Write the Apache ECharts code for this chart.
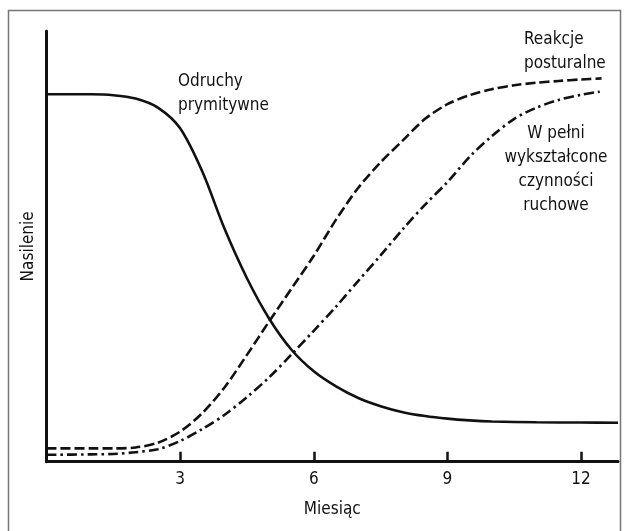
<!DOCTYPE html>
<html>
<head>
<meta charset="utf-8">
<script src="https://cdn.jsdelivr.net/npm/echarts@6/dist/echarts.min.js"></script>
<style>
  html, body { margin: 0; padding: 0; background: #fff; }
  #chart { width: 628px; height: 531px; }
</style>
</head>
<body>
<div id="chart"></div>
<script>
// Miesiąc (x) / Nasilenie (y, 0-100)
var monthTicks = [3, 6, 9, 12]

// Odruchy prymitywne
var reflexX = [0, 0.5, 1, 1.5, 2, 2.5, 3, 3.5, 4, 4.5, 5, 5.5, 6, 6.5, 7, 7.5, 8, 8.5, 9, 9.5, 10, 11, 12, 12.83]
var reflexY = [85.3, 85.3, 85.3, 85.1, 84.3, 82.2, 77.4, 67.3, 54.0, 42.6, 33.2, 26.0, 21.0, 17.5, 14.8, 12.9, 11.5, 10.6, 10.0, 9.6, 9.35, 9.15, 9.1, 9.06]

// Reakcje posturalne
var posturalX = [0, 1, 1.5, 2, 2.5, 3, 3.5, 4, 4.5, 5, 5.5, 6, 6.5, 7, 7.5, 8, 8.5, 9, 9.5, 10, 10.5, 11, 11.5, 12, 12.46]
var posturalY = [3.1, 3.1, 3.1, 3.3, 4.4, 7.0, 11.3, 17.3, 24.8, 32.6, 40.2, 47.8, 56.2, 63.6, 69.5, 74.6, 79.6, 83.0, 85.1, 86.5, 87.4, 88.0, 88.4, 88.75, 89.0]

// W pełni wykształcone czynności ruchowe
var motorX = [0, 1, 1.5, 2, 2.5, 3, 3.5, 4, 4.5, 5, 5.5, 6, 6.5, 7, 7.5, 8, 8.5, 9, 9.5, 10, 10.5, 11, 11.5, 12, 12.42]
var motorY = [1.6, 1.7, 1.8, 2.2, 2.9, 4.8, 7.6, 10.9, 15.0, 19.6, 24.9, 30.4, 36.0, 42.0, 47.9, 54.0, 59.7, 64.9, 70.8, 75.6, 79.6, 82.2, 84.0, 85.2, 85.9]

var FONT = '"DejaVu Sans Condensed", "Liberation Sans Narrow", sans-serif'
var INK = '#111'

function pairs(xs, ys) {
  return xs.map(function(x, i) { return [x, ys[i]] })
}

function curve(name, xs, ys, dash) {
  return {
    name: name,
    type: 'line',
    data: pairs(xs, ys),
    showSymbol: false,
    smooth: 0.3,
    lineStyle: { color: INK, width: 2.6, type: dash }
  }
}

var chart = echarts.init(document.getElementById('chart'))
chart.setOption({
  animation: false,
  backgroundColor: '#fff',
  grid: { left: 46.5, right: 10, top: 31, bottom: 69.3 },
  xAxis: {
    type: 'value',
    min: 0,
    max: 12.83,
    interval: 3,
    name: 'Miesiąc',
    nameLocation: 'middle',
    nameGap: 39,
    nameTextStyle: { fontFamily: FONT, fontSize: 17, color: INK },
    splitLine: { show: false },
    axisLine: { lineStyle: { color: INK, width: 3 } },
    axisTick: { inside: true, length: 10, customValues: monthTicks, lineStyle: { color: INK, width: 2.5 } },
    axisLabel: { customValues: monthTicks, margin: 9, fontFamily: FONT, fontSize: 17, color: INK }
  },
  yAxis: {
    type: 'value',
    min: 0,
    max: 100,
    name: 'Nasilenie',
    nameLocation: 'middle',
    nameGap: 9,
    nameTextStyle: { fontFamily: FONT, fontSize: 17, color: INK },
    splitLine: { show: false },
    axisLine: { show: true, lineStyle: { color: INK, width: 3 } },
    axisTick: { show: false },
    axisLabel: { show: false }
  },
  series: [
    curve('Odruchy prymitywne', reflexX, reflexY, 'solid'),
    curve('Reakcje posturalne', posturalX, posturalY, [10, 4]),
    curve('W pełni wykształcone czynności ruchowe', motorX, motorY, [10, 4, 2.5, 4])
  ],
  graphic: [
    {
      type: 'rect', silent: true, z: -1,
      shape: { x: 8.5, y: 10.5, width: 612, height: 600 },
      style: { fill: 'none', stroke: '#777', lineWidth: 1.5 }
    },
    {
      type: 'text', x: 178, y: 70,
      style: { text: 'Odruchy\nprymitywne', font: '17px ' + FONT, fill: INK, textAlign: 'left', textVerticalAlign: 'top', lineHeight: 24 }
    },
    {
      type: 'text', x: 524, y: 28,
      style: { text: 'Reakcje\nposturalne', font: '17px ' + FONT, fill: INK, textAlign: 'left', textVerticalAlign: 'top', lineHeight: 24 }
    },
    {
      type: 'text', x: 556, y: 122,
      style: { text: 'W pełni\nwykształcone\nczynności\nruchowe', font: '17px ' + FONT, fill: INK, textAlign: 'center', textVerticalAlign: 'top', lineHeight: 24 }
    }
  ]
})
</script>
</body>
</html>
